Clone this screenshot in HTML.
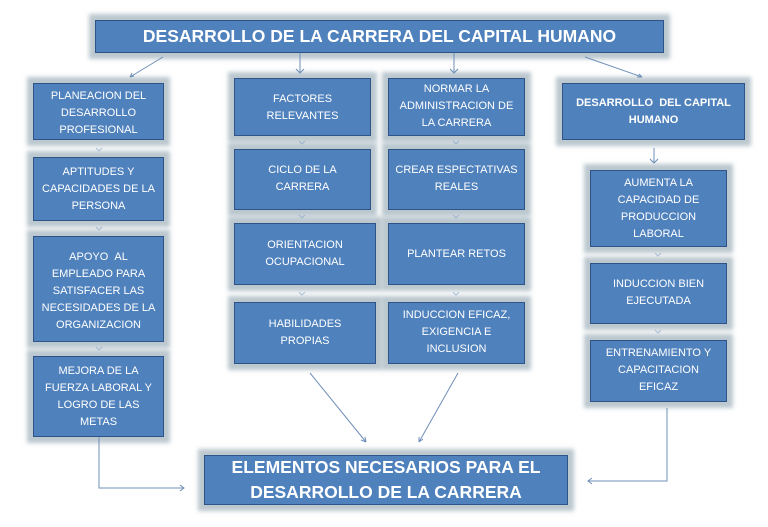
<!DOCTYPE html>
<html><head><meta charset="utf-8"><style>
body{margin:0;width:768px;height:527px;background:#fff;position:relative;overflow:hidden;font-family:"Liberation Sans",sans-serif;}
.b{position:absolute;background:#4f81bd;border:1.5px solid #2f5287;box-sizing:border-box;color:#fff;text-align:center;font-size:11px;line-height:17px;box-shadow:0 0 4px 6px rgba(120,145,160,0.5);display:flex;flex-direction:column;justify-content:flex-start;padding-top:4px;}
.c{justify-content:center;padding-top:0;}
.t{font-weight:bold;}
svg{position:absolute;left:0;top:0;}
</style></head><body>
<div class="b c t" style="left:95px;top:20px;width:569px;height:33px;font-size:17.5px;">DESARROLLO DE LA CARRERA DEL CAPITAL HUMANO</div>

<div class="b" style="left:33px;top:83px;width:131px;height:57px;">PLANEACION DEL<br>DESARROLLO<br>PROFESIONAL</div>
<div class="b" style="left:33px;top:157px;width:131px;height:64px;padding-top:6px;">APTITUDES Y<br>CAPACIDADES DE LA<br>PERSONA</div>
<div class="b" style="left:33px;top:236px;width:131px;height:106px;padding-top:12px;">APOYO &nbsp;AL<br>EMPLEADO PARA<br>SATISFACER LAS<br>NECESIDADES DE LA<br>ORGANIZACION</div>
<div class="b" style="left:33px;top:356px;width:131px;height:81px;padding-top:6px;">MEJORA DE LA<br>FUERZA LABORAL Y<br>LOGRO DE LAS<br>METAS</div>

<div class="b" style="left:234px;top:78px;width:137px;height:58px;padding-top:12px;">FACTORES<br>RELEVANTES</div>
<div class="b" style="left:234px;top:149px;width:137px;height:61px;padding-top:12px;">CICLO DE LA<br>CARRERA</div>
<div class="b c" style="left:234px;top:223px;width:142px;height:62px;">ORIENTACION<br>OCUPACIONAL</div>
<div class="b c" style="left:234px;top:302px;width:142px;height:62px;">HABILIDADES<br>PROPIAS</div>

<div class="b" style="left:388px;top:78px;width:137px;height:58px;padding-top:2px;">NORMAR LA<br>ADMINISTRACION DE<br>LA CARRERA</div>
<div class="b" style="left:388px;top:149px;width:137px;height:61px;padding-top:12px;">CREAR ESPECTATIVAS<br>REALES</div>
<div class="b c" style="left:388px;top:223px;width:137px;height:62px;">PLANTEAR RETOS</div>
<div class="b" style="left:388px;top:302px;width:137px;height:62px;padding-top:4px;">INDUCCION EFICAZ,<br>EXIGENCIA E<br>INCLUSION</div>

<div class="b c t" style="left:562px;top:83px;width:183px;height:57px;">DESARROLLO &nbsp;DEL CAPITAL<br>HUMANO</div>
<div class="b" style="left:590px;top:170px;width:137px;height:77px;padding-top:4px;">AUMENTA LA<br>CAPACIDAD DE<br>PRODUCCION<br>LABORAL</div>
<div class="b" style="left:590px;top:263px;width:137px;height:61px;padding-top:12px;">INDUCCION BIEN<br>EJECUTADA</div>
<div class="b" style="left:590px;top:340px;width:137px;height:62px;padding-top:4px;">ENTRENAMIENTO Y<br>CAPACITACION<br>EFICAZ</div>

<div class="b c t" style="left:204px;top:455px;width:364px;height:50px;font-size:17.5px;line-height:25px;">ELEMENTOS NECESARIOS PARA EL<br>DESARROLLO DE LA CARRERA</div>

<svg width="768" height="527" fill="none" stroke="#6f8fb8" stroke-width="1">
<path d="M163 57 L130 77 M130 77 l4 -1 M130 77 l2 -4"/>
<path d="M300 53 V73 M296 69 L300 73 L304 69"/>
<path d="M454 53 V73 M450 69 L454 73 L458 69"/>
<path d="M585 57 L642 77 M642 77 l-5 0 M642 77 l-3 -3"/>
<path d="M654 148 V163 M650 159 L654 163 L658 159"/>
<path d="M99 437 V488 H184 M180 485 L184 488 L180 491"/>
<path d="M310 373 L366 442 M366 442 l-1 -5 M366 442 l-5 -2"/>
<path d="M458 373 L419 442 M419 442 l0 -5 M419 442 l4 -3"/>
<path d="M667 408 V481 H588 M592 478 L588 481 L592 484"/>
<g stroke="#7f9fc4" opacity="0.6">
<path d="M96 148 l3 3 l3 -3 M96 227 l3 3 l3 -3 M96 347 l3 3 l3 -3"/>
<path d="M299 141 l3 3 l3 -3 M299 215 l3 3 l3 -3 M299 292 l3 3 l3 -3"/>
<path d="M453 141 l3 3 l3 -3 M453 215 l3 3 l3 -3 M453 292 l3 3 l3 -3"/>
<path d="M655 253 l3 3 l3 -3 M655 330 l3 3 l3 -3"/>
</g>
</svg>
</body></html>
